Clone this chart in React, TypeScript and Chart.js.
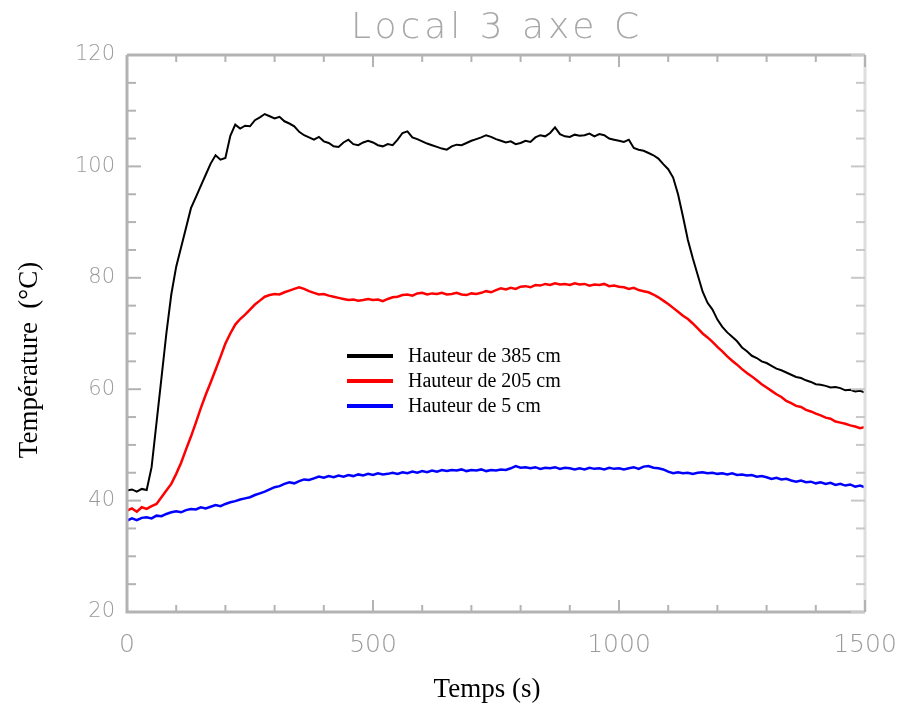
import React, { useEffect, useRef } from "react";
import { Chart, registerables } from "chart.js";

Chart.register(...registerables);

const TITLE = "Local 3 axe C";
const X_TITLE = "Temps (s)";
const Y_TITLE = "Température  (°C)";
const TIME_STEP = 10;
const X_MIN = 0;
const X_MAX = 1500;
const Y_MIN = 20;
const Y_MAX = 120;

const LABELS = ["Hauteur de 385 cm", "Hauteur de 205 cm", "Hauteur de 5 cm"];
const COLORS = ["#000000", "#ff0000", "#0000ff"];

// temperature (°C), one value every 10 s from 0 to 1500 s
const H385 = [
  41.8, 42.0, 41.6, 42.1, 41.9, 46.0, 54.0, 62.0, 70.0, 77.0,
  82.0, 85.5, 89.0, 92.5, 94.5, 96.5, 98.5, 100.5, 102.0, 101.2,
  101.5, 105.5, 107.5, 106.8, 107.3, 107.2, 108.3, 108.8, 109.4, 109.0,
  108.6, 108.9, 108.1, 107.7, 107.2, 106.2, 105.6, 105.2, 104.8, 105.3,
  104.5, 104.2, 103.6, 103.5, 104.3, 104.8, 104.0, 103.8, 104.3, 104.6,
  104.3, 103.8, 103.6, 104.0, 103.8, 104.8, 106.0, 106.3, 105.2, 104.9,
  104.5, 104.1, 103.8, 103.5, 103.2, 103.0, 103.6, 103.9, 103.8, 104.2,
  104.6, 104.9, 105.2, 105.6, 105.3, 104.9, 104.6, 104.3, 104.5, 104.0,
  104.2, 104.6, 104.4, 105.2, 105.6, 105.4, 106.0, 107.0, 105.8, 105.4,
  105.3, 105.7, 105.5, 105.6, 105.9, 105.4, 105.8, 105.6, 105.0, 104.8,
  104.6, 104.4, 104.8, 103.3, 103.0, 102.8, 102.4, 102.0, 101.4, 100.4,
  99.5, 98.0, 95.0, 91.0, 86.8, 83.5, 80.5, 77.5, 75.5, 74.3,
  72.5, 71.2, 70.2, 69.4, 68.6, 67.5, 66.8, 66.0, 65.6, 65.0,
  64.7, 64.2, 63.7, 63.4, 63.0, 62.6, 62.2, 62.0, 61.6, 61.3,
  60.9, 60.8, 60.6, 60.3, 60.4, 60.2, 59.8, 59.9, 59.6, 59.7,
  59.4,
];

const H205 = [
  38.2, 38.6, 38.0, 38.8, 38.5, 39.0, 39.4, 40.6, 41.8, 43.0,
  44.8, 46.8, 49.2, 51.5, 54.0, 56.6, 59.0, 61.2, 63.5, 65.8,
  68.2, 70.0, 71.6, 72.6, 73.4, 74.3, 75.2, 75.9, 76.6, 76.9,
  77.1, 77.0, 77.4, 77.7, 78.0, 78.3, 78.0, 77.6, 77.3, 77.0,
  77.1, 76.8, 76.6, 76.4, 76.2, 76.0, 76.1, 75.9, 76.0, 76.2,
  76.0, 76.1, 75.8, 76.2, 76.5, 76.6, 76.9, 77.0, 76.8, 77.2,
  77.3, 77.0, 77.2, 77.1, 77.3, 77.0, 77.1, 77.3, 77.0, 76.9,
  77.2, 77.1, 77.3, 77.6, 77.4, 77.8, 78.1, 77.9, 78.2, 78.0,
  78.4, 78.5, 78.3, 78.7, 78.6, 78.9, 78.7, 79.0, 78.8, 78.9,
  78.7, 79.0, 78.8, 78.9, 78.6, 78.8, 78.7, 78.9, 78.5, 78.6,
  78.4, 78.3, 78.0, 78.2, 77.8, 77.6, 77.4, 77.0, 76.5, 75.9,
  75.3, 74.6, 73.9, 73.2, 72.6, 71.8, 70.9, 70.0, 69.3, 68.5,
  67.6, 66.8, 65.9, 65.1, 64.4, 63.6, 62.9, 62.3, 61.6, 60.9,
  60.3, 59.7, 59.1, 58.6, 57.9, 57.5, 57.0, 56.8, 56.3, 56.0,
  55.6, 55.3, 54.9, 54.7, 54.2, 54.0, 53.8, 53.5, 53.3, 53.0,
  53.2,
];

const H5 = [
  36.4, 36.8, 36.5, 36.9, 37.0, 36.8, 37.3, 37.2, 37.6, 37.9,
  38.1, 37.9, 38.3, 38.5, 38.4, 38.8, 38.6, 38.9, 39.2, 39.0,
  39.4, 39.7, 39.9, 40.2, 40.4, 40.6, 41.0, 41.3, 41.6, 42.0,
  42.4, 42.6, 43.0, 43.3, 43.1, 43.5, 43.8, 43.7, 44.0, 44.3,
  44.1, 44.4, 44.2, 44.5, 44.3, 44.6, 44.4, 44.7, 44.5, 44.8,
  44.6, 44.9, 44.7, 44.8, 45.0, 44.8, 45.1, 44.9, 45.2, 45.0,
  45.3, 45.1, 45.4, 45.2, 45.5, 45.3, 45.5, 45.4, 45.6, 45.3,
  45.5, 45.4, 45.6, 45.3, 45.5, 45.4, 45.6, 45.5, 45.8, 46.2,
  45.9, 46.0, 45.8, 46.0, 45.7, 45.9, 45.8, 46.0, 45.7, 45.9,
  45.8, 45.6, 45.8, 45.6, 45.9, 45.7, 45.8, 45.6, 45.9, 45.7,
  45.8, 45.6, 45.8, 46.0, 45.7, 46.1, 46.2, 45.9, 45.8, 45.6,
  45.2, 44.9, 45.1, 44.9, 45.0, 44.8, 45.0, 45.1, 44.9, 45.0,
  44.8, 44.9, 44.7, 44.9, 44.6, 44.7, 44.5, 44.6, 44.3, 44.4,
  44.2, 43.9, 44.1, 43.8, 43.9, 43.6, 43.4, 43.6, 43.3, 43.4,
  43.1, 43.3, 43.0, 43.2, 42.8, 43.0, 42.7, 42.9, 42.5, 42.7,
  42.4,
];

const SERIES = [H385, H205, H5];
const WIDTHS = [2, 2.5, 2.5];

const AXIS_GRAY = "#b3b3b3";
const LABEL_GRAY = "#9a9a9a";

const decorPlugin = {
  id: "decor",
  beforeDraw(chart: any) {
    const { ctx, width, height } = chart;
    ctx.save();
    ctx.fillStyle = "#ffffff";
    ctx.fillRect(0, 0, width, height);
    ctx.restore();
  },
  afterDraw(chart: any) {
    const { ctx, chartArea } = chart;
    const { left, right, top, bottom } = chartArea;
    const xs = chart.scales.x;
    const ys = chart.scales.y;
    ctx.save();

    // frame
    ctx.lineWidth = 3;
    ctx.strokeStyle = AXIS_GRAY;
    ctx.beginPath();
    ctx.moveTo(left, top);
    ctx.lineTo(right, top);
    ctx.moveTo(left, top);
    ctx.lineTo(left, bottom);
    ctx.lineTo(right, bottom);
    ctx.stroke();
    ctx.strokeStyle = "#dedede";
    ctx.beginPath();
    ctx.moveTo(right, top);
    ctx.lineTo(right, bottom);
    ctx.stroke();

    // y ticks (every 5, major every 20)
    ctx.lineWidth = 2;
    for (let v = Y_MIN; v <= Y_MAX; v += 5) {
      const py = ys.getPixelForValue(v);
      const major = (v - Y_MIN) % 20 === 0;
      const len = major ? 14 : 9;
      ctx.strokeStyle = AXIS_GRAY;
      ctx.beginPath();
      ctx.moveTo(left, py);
      ctx.lineTo(left + len, py);
      ctx.stroke();
      ctx.strokeStyle = "#c8c8c8";
      ctx.beginPath();
      ctx.moveTo(right, py);
      ctx.lineTo(right - len, py);
      ctx.stroke();
    }
    // x ticks (every 100, major every 500)
    for (let v = X_MIN; v <= X_MAX; v += 100) {
      const px = xs.getPixelForValue(v);
      const major = v % 500 === 0;
      const len = major ? 12 : 7;
      ctx.strokeStyle = AXIS_GRAY;
      ctx.beginPath();
      ctx.moveTo(px, bottom);
      ctx.lineTo(px, bottom - len);
      ctx.moveTo(px, top);
      ctx.lineTo(px, top + len);
      ctx.stroke();
    }

    // title
    ctx.fillStyle = "#a8a8a8";
    ctx.font = '200 36px "DejaVu Sans", sans-serif';
    ctx.textAlign = "center";
    ctx.textBaseline = "alphabetic";
    try {
      (ctx as any).letterSpacing = "4px";
    } catch (e) {}
    ctx.fillText(TITLE, 497, 38);
    try {
      (ctx as any).letterSpacing = "0px";
    } catch (e) {}

    // axis titles
    ctx.fillStyle = "#000000";
    ctx.font = '27px "Liberation Serif", "Times New Roman", serif';
    ctx.textAlign = "center";
    ctx.textBaseline = "alphabetic";
    ctx.fillText(X_TITLE, 487, 697);
    ctx.save();
    ctx.translate(37, 360);
    ctx.rotate(-Math.PI / 2);
    ctx.fillText(Y_TITLE, 0, 0);
    ctx.restore();

    // legend
    ctx.font = '20px "Liberation Serif", "Times New Roman", serif';
    ctx.textAlign = "left";
    ctx.textBaseline = "middle";
    LABELS.forEach((lab, i) => {
      const y = 356 + i * 25;
      ctx.strokeStyle = COLORS[i];
      ctx.lineWidth = 4;
      ctx.beginPath();
      ctx.moveTo(347, y);
      ctx.lineTo(393, y);
      ctx.stroke();
      ctx.fillStyle = "#000000";
      ctx.fillText(lab, 408, y + 1);
    });

    ctx.restore();
  },
};

export default function App() {
  const ref = useRef<HTMLCanvasElement | null>(null);

  useEffect(() => {
    document.body.style.margin = "0";
    const canvas = ref.current;
    if (!canvas) return;
    const datasets = SERIES.map((vals, i) => ({
      label: LABELS[i],
      data: vals.map((v, k) => ({ x: k * TIME_STEP, y: v })),
      borderColor: COLORS[i],
      backgroundColor: COLORS[i],
      borderWidth: WIDTHS[i],
      pointRadius: 0,
      tension: 0,
      fill: false,
    }));
    const chart = new Chart(canvas, {
      type: "line",
      data: { datasets },
      plugins: [decorPlugin],
      options: {
        animation: false,
        responsive: false,
        devicePixelRatio: 1,
        layout: { padding: { left: 0, top: 55, right: 35, bottom: 0 } },
        plugins: {
          legend: { display: false },
          tooltip: { enabled: false },
          title: { display: false },
        },
        scales: {
          x: {
            type: "linear",
            min: X_MIN,
            max: X_MAX,
            grid: { display: false, drawTicks: false },
            border: { display: false },
            ticks: {
              stepSize: 500,
              padding: 18,
              color: LABEL_GRAY,
              font: { family: '"DejaVu Sans", sans-serif', size: 25, weight: "200" as any },
              maxRotation: 0,
              callback: (v: any) => String(v),
            },
            afterFit: (s: any) => {
              s.height = 97;
              s.paddingLeft = 0;
              s.paddingRight = 0;
            },
          },
          y: {
            type: "linear",
            min: Y_MIN,
            max: Y_MAX,
            grid: { display: false, drawTicks: false },
            border: { display: false },
            ticks: {
              stepSize: 20,
              padding: 12,
              color: LABEL_GRAY,
              font: { family: '"DejaVu Sans", sans-serif', size: 21, weight: "200" as any },
              callback: (v: any) => String(v),
            },
            afterFit: (s: any) => {
              s.width = 127;
              s.paddingTop = 0;
              s.paddingBottom = 0;
            },
          },
        },
      },
    });
    return () => chart.destroy();
  }, []);

  return (
    <div style={{ width: 900, height: 709 }}>
      <canvas ref={ref} width={900} height={709} style={{ display: "block", width: 900, height: 709 }} />
    </div>
  );
}
